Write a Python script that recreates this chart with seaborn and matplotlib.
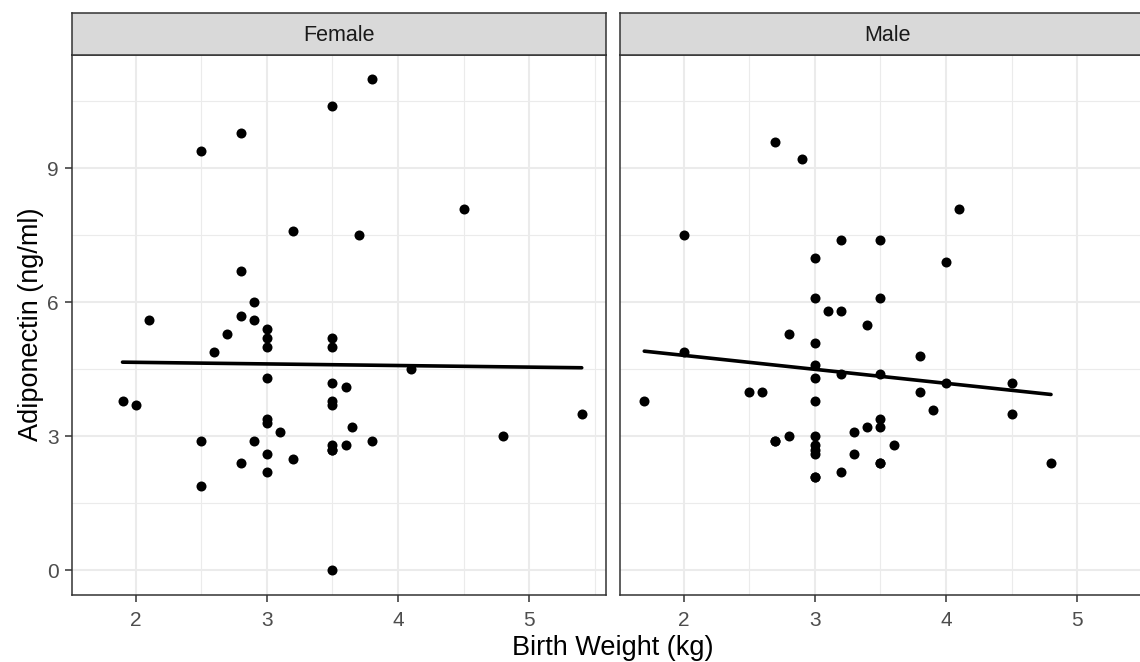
"""
Adiponectin vs birth weight, faceted by sex (ggplot-style theme_bw look).
"""

# Imports
import pandas as pd
import matplotlib
matplotlib.use('Agg')
import matplotlib.pyplot as plt
import seaborn as sns

# Data (stacked points in the 3.0 / 3.5 columns
# counted from blob size and from the fitted line)
panels = ['Female', 'Male']

female_weight = [3.8, 3.5, 2.8, 2.5, 4.5, 3.2, 3.7, 2.8, 2.9, 2.8, 2.1, 2.9,
                 3.0, 2.7, 3.0, 3.5, 3.0, 3.5, 2.6, 4.1, 3.0, 3.5, 3.6, 1.9,
                 3.5, 2.0, 3.5, 5.4, 3.0, 3.0, 3.65, 3.1, 4.8, 2.5, 2.9, 3.8,
                 3.5, 3.6, 3.5, 3.5, 3.0, 3.2, 2.8, 3.0, 2.5, 3.5]
female_adipo = [11.0, 10.4, 9.8, 9.4, 8.1, 7.6, 7.5, 6.7, 6.0, 5.7, 5.6, 5.6,
                5.4, 5.3, 5.2, 5.2, 5.0, 5.0, 4.9, 4.5, 4.3, 4.2, 4.1, 3.8,
                3.8, 3.7, 3.7, 3.5, 3.4, 3.3, 3.2, 3.1, 3.0, 2.9, 2.9, 2.9,
                2.8, 2.8, 2.7, 2.7, 2.6, 2.5, 2.4, 2.2, 1.9, 0.0]

male_weight = [2.7, 2.9, 4.1, 2.0, 3.2, 3.5, 3.0, 4.0, 3.0, 3.5, 3.1, 3.2,
               3.4, 2.8, 3.0, 2.0, 3.8, 3.0, 3.2, 3.5, 3.0, 4.0, 4.5, 2.5,
               2.6, 3.8, 1.7, 3.0, 3.9, 4.5, 3.5, 3.4, 3.5, 3.3, 2.8, 3.0,
               2.7, 2.7, 3.0, 3.0, 3.0, 3.3, 3.6, 3.5, 3.5, 4.8, 3.2, 3.0,
               3.0]
male_adipo = [9.6, 9.2, 8.1, 7.5, 7.4, 7.4, 7.0, 6.9, 6.1, 6.1, 5.8, 5.8,
              5.5, 5.3, 5.1, 4.9, 4.8, 4.6, 4.4, 4.4, 4.3, 4.2, 4.2, 4.0,
              4.0, 4.0, 3.8, 3.8, 3.6, 3.5, 3.4, 3.2, 3.2, 3.1, 3.0, 3.0,
              2.9, 2.9, 2.8, 2.7, 2.6, 2.6, 2.8, 2.4, 2.4, 2.4, 2.2, 2.1,
              2.1]

x_ticks = [2, 3, 4, 5]
y_ticks = [0, 3, 6, 9]

df = pd.concat([
    pd.DataFrame({'sex': 'Female', 'weight': female_weight, 'adipo': female_adipo}),
    pd.DataFrame({'sex': 'Male', 'weight': male_weight, 'adipo': male_adipo}),
], ignore_index=True)

# Environment settings
sns.set_style('white')
plt.rcParams['font.family'] = ['Liberation Sans', 'DejaVu Sans']

W, H = 1140, 662
fig = plt.figure(figsize=(W / 100, H / 100), dpi=100)


def box(l, t, r, b):
    # pixel box -> figure fraction
    return [l / W, 1 - b / H, (r - l) / W, (b - t) / H]


panel_px = {'Female': (72, 606), 'Male': (620, 1154)}
top, bottom, strip_top = 54.5, 595, 12.7

for i, sex in enumerate(panels):
    l, r = panel_px[sex]
    ax = fig.add_axes(box(l, top, r, bottom))
    ax.set_axisbelow(True)
    sub = df[df['sex'] == sex]
    sns.regplot(data=sub, x='weight', y='adipo', ax=ax, ci=None,
                scatter_kws=dict(s=52, color='black', linewidths=0, zorder=3, alpha=1),
                line_kws=dict(color='black', lw=2.6, zorder=4))

    # Axes
    ax.set_xlim(1.515, 5.585)
    ax.set_ylim(-0.55, 11.55)
    ax.set_xticks(x_ticks)
    ax.set_yticks(y_ticks)
    ax.set_xticks([2.5, 3.5, 4.5, 5.5], minor=True)
    ax.set_yticks([1.5, 4.5, 7.5, 10.5], minor=True)
    ax.grid(which='major', color='#ebebeb', lw=1.5)
    ax.grid(which='minor', color='#ebebeb', lw=0.8)
    ax.tick_params(which='major', length=5, width=1.1, color='#333333',
                   labelsize=15, labelcolor='#4d4d4d', bottom=True, left=True)
    ax.tick_params(axis='x', pad=6.3)
    ax.tick_params(axis='y', pad=4.6)
    ax.tick_params(which='minor', length=0)
    for sp in ax.spines.values():
        sp.set_visible(True)
        sp.set_color('#333333')
        sp.set_linewidth(1.1)
    ax.set_xlabel('')
    ax.set_ylabel('')
    if i == 1:
        ax.tick_params(axis='y', left=False, labelleft=False)

    # Strip header
    sax = fig.add_axes(box(l, strip_top, r, top))
    sax.set_facecolor('#d9d9d9')
    sax.set_xticks([])
    sax.set_yticks([])
    for sp in sax.spines.values():
        sp.set_visible(True)
        sp.set_color('#333333')
        sp.set_linewidth(1.1)
    sax.text(0.5, 0.45, sex, ha='center', va='center', fontsize=15.5,
             color='#1a1a1a', transform=sax.transAxes)

# Label plot
fig.text(31 / W, 1 - ((top + bottom) / 2) / H, 'Adiponectin (ng/ml)',
         rotation=90, ha='center', va='center', fontsize=19.5, color='black')
fig.text(613 / W, 1 - 648 / H, 'Birth Weight (kg)',
         ha='center', va='center', fontsize=19.5, color='black')

fig.savefig('out.png', dpi=100)
